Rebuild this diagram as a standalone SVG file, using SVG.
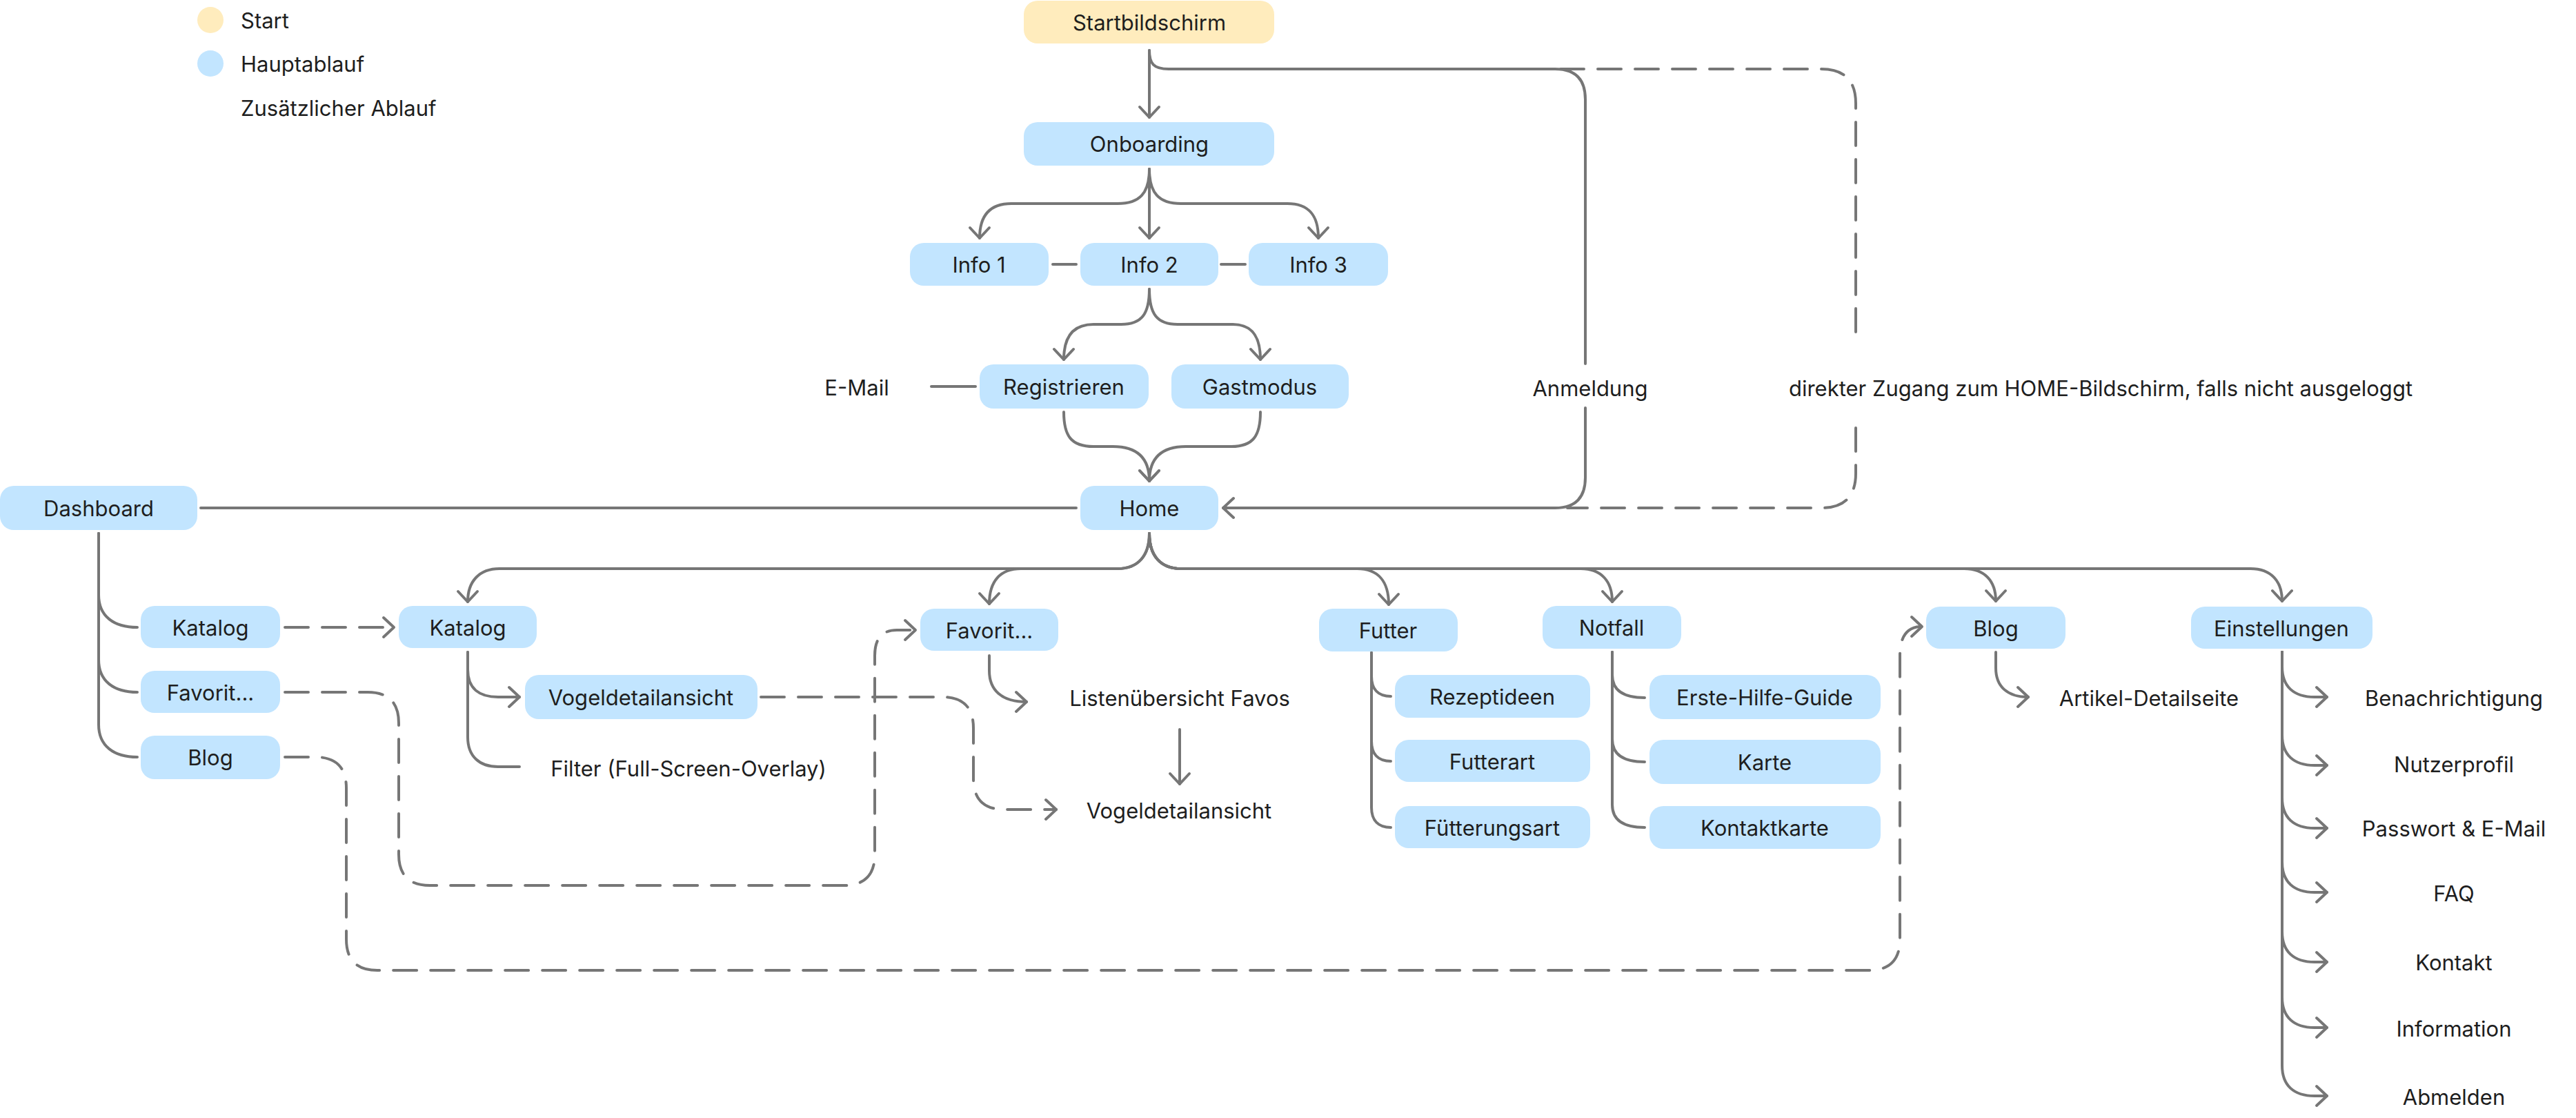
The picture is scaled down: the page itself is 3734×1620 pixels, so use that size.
<svg xmlns="http://www.w3.org/2000/svg" width="3734" height="1620" viewBox="0 0 3734 1620">
<style>
.bb{fill:#C2E5FF}
.by{fill:#FFECBD}
.t{font-family:Inter,"Liberation Sans",sans-serif;font-size:31px;fill:#1E1E1E;text-anchor:middle;dominant-baseline:central}
.ts{text-anchor:start}
.c{fill:none;stroke:#767676;stroke-width:4;stroke-linecap:round;stroke-linejoin:round}
.d{stroke-dasharray:34 20}
</style>
<defs>
<marker id="a" markerUnits="userSpaceOnUse" markerWidth="40" markerHeight="40" viewBox="-20 -20 40 40" refX="0" refY="0" orient="auto" overflow="visible">
<path d="M-15,-14 L0,0 L-15,14" fill="none" stroke="#767676" stroke-width="4" stroke-linecap="round" stroke-linejoin="round"/>
</marker>
</defs>
<rect width="3734" height="1620" fill="#FFFFFF"/>

<g id="legend">
<circle cx="305" cy="29" r="19" class="by"/>
<text x="349" y="29" class="t ts">Start</text>
<circle cx="305" cy="92" r="19" class="bb"/>
<text x="349" y="92" class="t ts">Hauptablauf</text>
<text x="349" y="156" class="t ts">Zusätzlicher Ablauf</text>
</g>

<g id="connectors">
<path class="c" marker-end="url(#a)" d="M1666,73 V170"/>
<path class="c" d="M1666,73 C1666,92 1672,100 1694,100 H2254 Q2298,100 2298,144 V527 M2298,591 V692 Q2298,736 2254,736 H1773" marker-end="url(#a)"/>
<path class="c d" d="M2262,100 H2640 Q2690,100 2690,150 V490 M2690,620 V686 Q2690,736 2640,736 H2272"/>
<path class="c" marker-end="url(#a)" d="M1666,245 V345"/>
<path class="c" marker-end="url(#a)" d="M1666,245 C1666,280 1652,295 1620,295 H1466 C1432,295 1420,315 1420,345"/>
<path class="c" marker-end="url(#a)" d="M1666,245 C1666,280 1680,295 1712,295 H1866 C1900,295 1911,315 1911,345"/>
<path class="c" d="M1526,383 H1560 M1770,383 H1805"/>
<path class="c" marker-end="url(#a)" d="M1666,419 C1666,455 1655,470 1625,470 H1585 C1552,470 1542,492 1542,521"/>
<path class="c" marker-end="url(#a)" d="M1666,419 C1666,455 1677,470 1707,470 H1787 C1818,470 1827,492 1827,521"/>
<path class="c" marker-end="url(#a)" d="M1542,597 C1542,632 1553,647 1585,647 H1613 C1650,647 1666,665 1666,697"/>
<path class="c" marker-end="url(#a)" d="M1827,597 C1827,632 1816,647 1785,647 H1719 C1682,647 1666,665 1666,697"/>
<path class="c" d="M1350,560 H1414"/>
<path class="c" d="M291,736 H1560"/>
<path class="c" marker-end="url(#a)" d="M1666,773 C1666,805 1650,824 1620,824 H724 C695,824 678,842 678,872"/>
<path class="c" marker-end="url(#a)" d="M1666,773 C1666,805 1650,824 1620,824 H1480 C1450,824 1434,842 1434,875"/>
<path class="c" marker-end="url(#a)" d="M1666,773 C1666,805 1682,824 1712,824 H1967 C1997,824 2013,842 2013,876"/>
<path class="c" marker-end="url(#a)" d="M1666,773 C1666,805 1682,824 1712,824 H2291 C2321,824 2337,842 2337,872"/>
<path class="c" marker-end="url(#a)" d="M1666,773 C1666,805 1682,824 1712,824 H2847 C2877,824 2893,842 2893,871"/>
<path class="c" marker-end="url(#a)" d="M1666,773 C1666,805 1682,824 1712,824 H3262 C3292,824 3308,842 3308,871"/>
<path class="c" d="M143,773 V862 C143,893 165,909 199,909"/>
<path class="c" d="M143,773 V956 C143,987 165,1003 199,1003"/>
<path class="c" d="M143,773 V1050 C143,1081 165,1097 199,1097"/>
<path class="c d" marker-end="url(#a)" d="M413,909 H571"/>
<path class="c" marker-end="url(#a)" d="M678,945 V970 C678,998 695,1010 722,1010 H753"/>
<path class="c" d="M678,945 V1068 C678,1096 695,1111 722,1111 H753"/>
<path class="c" marker-end="url(#a)" d="M1434,950 V972 C1434,1000 1452,1017 1488,1017"/>
<path class="c" marker-end="url(#a)" d="M1710,1057 V1136"/>
<path class="c d" marker-end="url(#a)" d="M1103,1010 H1366 Q1411,1010 1411,1055 V1128 Q1411,1173 1456,1173 H1531"/>
<path class="c d" marker-end="url(#a)" d="M413,1003 H533 Q578,1003 578,1048 V1238 Q578,1283 623,1283 H1223 Q1268,1283 1268,1238 V950 Q1268,913 1300,913 H1327"/>
<path class="c d" marker-end="url(#a)" d="M413,1097 H457 Q502,1097 502,1142 V1361 Q502,1406 547,1406 H2709 Q2754,1406 2754,1361 V950 Q2754,908 2786,908"/>
<path class="c" d="M1988,946 V980 C1988,999 1998,1009 2016,1009"/>
<path class="c" d="M1988,946 V1074 C1988,1093 1998,1103 2016,1103"/>
<path class="c" d="M1988,946 V1170 C1988,1189 1998,1199 2016,1199"/>
<path class="c" d="M2337,945 V978 C2337,1000 2352,1011 2384,1011"/>
<path class="c" d="M2337,945 V1071 C2337,1093 2352,1104 2384,1104"/>
<path class="c" d="M2337,945 V1166 C2337,1188 2352,1199 2384,1199"/>
<path class="c" marker-end="url(#a)" d="M2893,945 V968 C2893,995 2910,1010 2940,1010"/>
<path class="c" marker-end="url(#a)" d="M3308,945 V966 C3308,995 3325,1010 3355,1010 H3373"/>
<path class="c" marker-end="url(#a)" d="M3308,945 V1065 C3308,1094 3325,1109 3355,1109 H3373"/>
<path class="c" marker-end="url(#a)" d="M3308,945 V1156 C3308,1185 3325,1200 3355,1200 H3373"/>
<path class="c" marker-end="url(#a)" d="M3308,945 V1249 C3308,1278 3325,1293 3355,1293 H3373"/>
<path class="c" marker-end="url(#a)" d="M3308,945 V1350 C3308,1379 3325,1394 3355,1394 H3373"/>
<path class="c" marker-end="url(#a)" d="M3308,945 V1445 C3308,1474 3325,1489 3355,1489 H3373"/>
<path class="c" marker-end="url(#a)" d="M3308,945 V1544 C3308,1573 3325,1588 3355,1588 H3373"/>
</g>

<g id="n-startbildschirm"><rect x="1484" y="1" width="363" height="62" rx="20" class="by"/><text x="1666" y="32" class="t">Startbildschirm</text></g>
<g id="n-onboarding"><rect x="1484" y="177" width="363" height="63" rx="20" class="bb"/><text x="1666" y="208" class="t">Onboarding</text></g>
<g id="n-info1"><rect x="1319" y="352" width="201" height="62" rx="20" class="bb"/><text x="1419" y="383" class="t">Info 1</text></g>
<g id="n-info2"><rect x="1566" y="352" width="200" height="62" rx="20" class="bb"/><text x="1666" y="383" class="t">Info 2</text></g>
<g id="n-info3"><rect x="1810" y="352" width="202" height="62" rx="20" class="bb"/><text x="1911" y="383" class="t">Info 3</text></g>
<g id="n-email"><text x="1242" y="561" class="t">E-Mail</text></g>
<g id="n-registrieren"><rect x="1420" y="528" width="245" height="64" rx="20" class="bb"/><text x="1542" y="560" class="t">Registrieren</text></g>
<g id="n-gastmodus"><rect x="1698" y="528" width="257" height="64" rx="20" class="bb"/><text x="1826" y="560" class="t">Gastmodus</text></g>
<g id="n-anmeldung"><text x="2305" y="562" class="t">Anmeldung</text></g>
<g id="n-direkt"><text x="3045" y="562" class="t">direkter Zugang zum HOME-Bildschirm, falls nicht ausgeloggt</text></g>
<g id="n-home"><rect x="1566" y="704" width="200" height="64" rx="20" class="bb"/><text x="1666" y="736" class="t">Home</text></g>
<g id="n-dashboard"><rect x="0" y="704" width="286" height="64" rx="20" class="bb"/><text x="143" y="736" class="t">Dashboard</text></g>
<g id="n-katalog-dash"><rect x="204" y="878" width="202" height="61" rx="20" class="bb"/><text x="305" y="909" class="t">Katalog</text></g>
<g id="n-favorit-dash"><rect x="204" y="972" width="202" height="61" rx="20" class="bb"/><text x="305" y="1003" class="t">Favorit...</text></g>
<g id="n-blog-dash"><rect x="204" y="1066" width="202" height="63" rx="20" class="bb"/><text x="305" y="1097" class="t">Blog</text></g>
<g id="n-katalog"><rect x="578" y="878" width="200" height="61" rx="20" class="bb"/><text x="678" y="909" class="t">Katalog</text></g>
<g id="n-vogeldetail"><rect x="761" y="978" width="337" height="64" rx="20" class="bb"/><text x="929" y="1010" class="t">Vogeldetailansicht</text></g>
<g id="n-filter"><text x="998" y="1113" class="t">Filter (Full-Screen-Overlay)</text></g>
<g id="n-favorit"><rect x="1334" y="882" width="200" height="61" rx="20" class="bb"/><text x="1434" y="913" class="t">Favorit...</text></g>
<g id="n-listen"><text x="1710" y="1011" class="t">Listenübersicht Favos</text></g>
<g id="n-vogeldetail2"><text x="1709" y="1174" class="t">Vogeldetailansicht</text></g>
<g id="n-futter"><rect x="1912" y="882" width="201" height="62" rx="20" class="bb"/><text x="2012" y="913" class="t">Futter</text></g>
<g id="n-rezeptideen"><rect x="2022" y="978" width="283" height="62" rx="20" class="bb"/><text x="2163" y="1009" class="t">Rezeptideen</text></g>
<g id="n-futterart"><rect x="2022" y="1072" width="283" height="61" rx="20" class="bb"/><text x="2163" y="1103" class="t">Futterart</text></g>
<g id="n-fuetterungsart"><rect x="2022" y="1168" width="283" height="61" rx="20" class="bb"/><text x="2163" y="1199" class="t">Fütterungsart</text></g>
<g id="n-notfall"><rect x="2236" y="878" width="201" height="62" rx="20" class="bb"/><text x="2336" y="909" class="t">Notfall</text></g>
<g id="n-erstehilfe"><rect x="2391" y="978" width="335" height="64" rx="20" class="bb"/><text x="2558" y="1010" class="t">Erste-Hilfe-Guide</text></g>
<g id="n-karte"><rect x="2391" y="1072" width="335" height="64" rx="20" class="bb"/><text x="2558" y="1104" class="t">Karte</text></g>
<g id="n-kontaktkarte"><rect x="2391" y="1168" width="335" height="62" rx="20" class="bb"/><text x="2558" y="1199" class="t">Kontaktkarte</text></g>
<g id="n-blog"><rect x="2792" y="879" width="202" height="61" rx="20" class="bb"/><text x="2893" y="910" class="t">Blog</text></g>
<g id="n-artikel"><text x="3115" y="1011" class="t">Artikel-Detailseite</text></g>
<g id="n-einstellungen"><rect x="3176" y="879" width="263" height="61" rx="20" class="bb"/><text x="3307" y="910" class="t">Einstellungen</text></g>
<g id="n-benachrichtigung"><text x="3557" y="1011" class="t">Benachrichtigung</text></g>
<g id="n-nutzerprofil"><text x="3557" y="1107" class="t">Nutzerprofil</text></g>
<g id="n-passwort"><text x="3557" y="1200" class="t">Passwort &amp; E-Mail</text></g>
<g id="n-faq"><text x="3557" y="1294" class="t">FAQ</text></g>
<g id="n-kontakt"><text x="3557" y="1394" class="t">Kontakt</text></g>
<g id="n-information"><text x="3557" y="1490" class="t">Information</text></g>
<g id="n-abmelden"><text x="3557" y="1589" class="t">Abmelden</text></g>
</svg>
